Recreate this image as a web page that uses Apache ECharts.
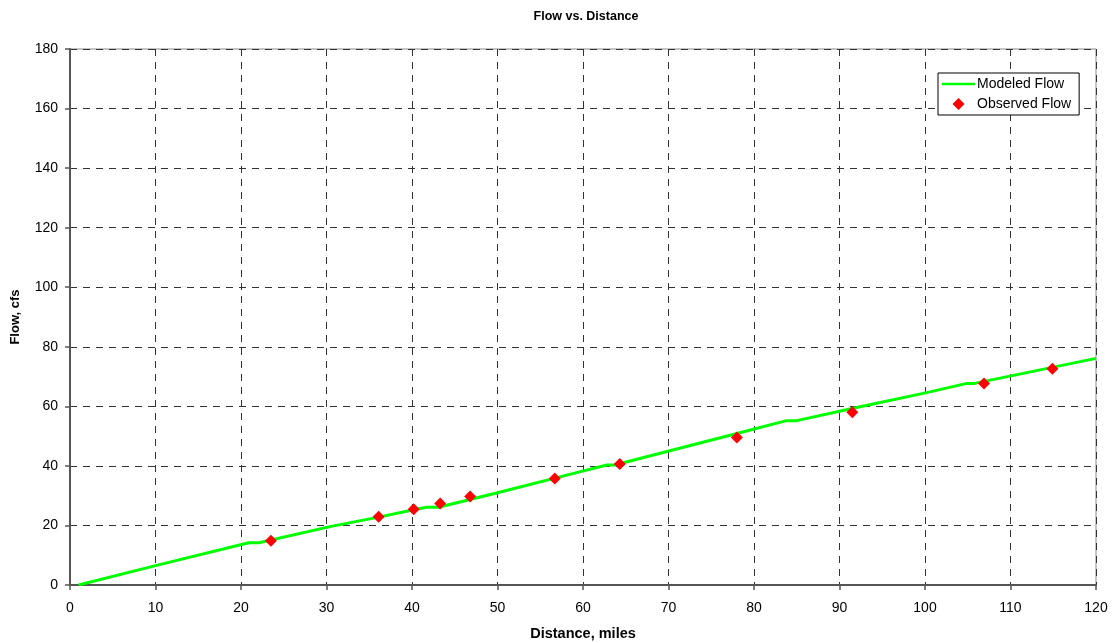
<!DOCTYPE html>
<html>
<head>
<meta charset="utf-8">
<script src="https://cdn.jsdelivr.net/npm/echarts@6/dist/echarts.min.js"></script>
<style>
  html, body { margin: 0; padding: 0; background: #fff; }
  #chart { width: 1112px; height: 643px; }
</style>
</head>
<body>
<div id="chart"></div>
<script>
// Modeled flow profile (distance in miles, flow in cfs)
const modeledDistance = [1, 10, 20.9, 22.1, 30.4, 36.1, 40.2, 41.7, 43.1, 50, 59.6, 62.8, 63.7, 71.3, 78, 83.8, 85, 92, 100.2, 104.9, 105.8, 120];
const modeledFlow     = [0, 6.5, 14.2, 14.2, 19.6, 22.8, 25.3, 26.1, 26.1, 31.0, 38.0, 40.3, 40.3, 45.9, 50.9, 55.2, 55.2, 59.6, 64.6, 67.7, 67.7, 76.1];

// Observed flow measurements
const observedDistance = [23.5, 36.1, 40.2, 43.3, 46.8, 56.7, 64.3, 78.0, 91.5, 106.9, 114.9];
const observedFlow     = [14.9, 22.9, 25.4, 27.4, 29.7, 35.8, 40.6, 49.5, 58.0, 67.7, 72.6];

const xTicks = { min: 0, max: 120, interval: 10 };
const yTicks = { min: 0, max: 180, interval: 20 };

const font = 'Arial, "Liberation Sans", sans-serif';

const chart = echarts.init(document.getElementById('chart'), null, { renderer: 'canvas' });

chart.setOption({
  backgroundColor: '#fff',
  animation: false,
  title: {
    text: 'Flow vs. Distance',
    left: 581, top: 5, textAlign: 'center',
    textStyle: { fontFamily: font, fontSize: 12.5, fontWeight: 'bold', color: '#000' }
  },
  grid: {
    left: 70, right: 16, top: 49, bottom: 58,
    outerBoundsMode: 'none',
    containLabel: false,
    show: true, borderColor: '#8a8a8a', borderWidth: 1, backgroundColor: '#fff'
  },
  legend: {
    orient: 'vertical',
    left: 938, top: 73,
    backgroundColor: '#fff',
    borderColor: '#000', borderWidth: 1, borderRadius: 0,
    padding: [4, 8, 4, 4],
    itemGap: 6,
    itemWidth: 33, itemHeight: 12,
    symbolKeepAspect: true,
    textStyle: { fontFamily: font, fontSize: 14, color: '#000', padding: [0, 0, 0, -3] },
    data: [
      { name: 'Modeled Flow', icon: 'path://M0,0 L40,0 L40,3 L0,3 Z', itemStyle: { color: '#00ff00' } },
      { name: 'Observed Flow', icon: 'path://M5,0 L10,5 L5,10 L0,5 Z', itemStyle: { color: '#ff0000' } }
    ]
  },
  xAxis: {
    type: 'value',
    min: xTicks.min, max: xTicks.max, interval: xTicks.interval,
    name: 'Distance, miles', nameLocation: 'middle', nameGap: 41,
    nameTextStyle: { fontFamily: font, fontSize: 14.5, fontWeight: 'bold', color: '#000' },
    axisLine: { show: true, onZero: false, lineStyle: { color: '#555', width: 2 } },
    axisTick: { show: true, length: 5, lineStyle: { color: '#555', width: 1.5 } },
    axisLabel: { fontFamily: font, fontSize: 14, color: '#000', margin: 16 },
    splitLine: { show: true, lineStyle: { color: '#333', type: [7, 6], width: 1 } }
  },
  yAxis: {
    type: 'value',
    min: yTicks.min, max: yTicks.max, interval: yTicks.interval,
    name: 'Flow, cfs', nameLocation: 'middle', nameGap: 48, nameRotate: 90,
    nameTextStyle: { fontFamily: font, fontSize: 13, fontWeight: 'bold', color: '#000' },
    axisLine: { show: true, onZero: false, lineStyle: { color: '#555', width: 2 } },
    axisTick: { show: true, length: 5, lineStyle: { color: '#555', width: 1.5 } },
    axisLabel: { fontFamily: font, fontSize: 14, color: '#000', margin: 12 },
    splitLine: { show: true, lineStyle: { color: '#333', type: [7, 6], width: 1 } }
  },
  series: [
    {
      name: 'Modeled Flow',
      type: 'line',
      data: modeledDistance.map((d, i) => [d, modeledFlow[i]]),
      showSymbol: false,
      symbol: 'none',
      lineStyle: { color: '#00ff00', width: 3 },
      itemStyle: { color: '#00ff00' },
      z: 3
    },
    {
      name: 'Observed Flow',
      type: 'scatter',
      data: observedDistance.map((d, i) => [d, observedFlow[i]]),
      symbol: 'diamond',
      symbolSize: [12, 12],
      itemStyle: { color: '#ff0000', opacity: 1 },
      z: 4
    }
  ]
});
</script>
</body>
</html>
